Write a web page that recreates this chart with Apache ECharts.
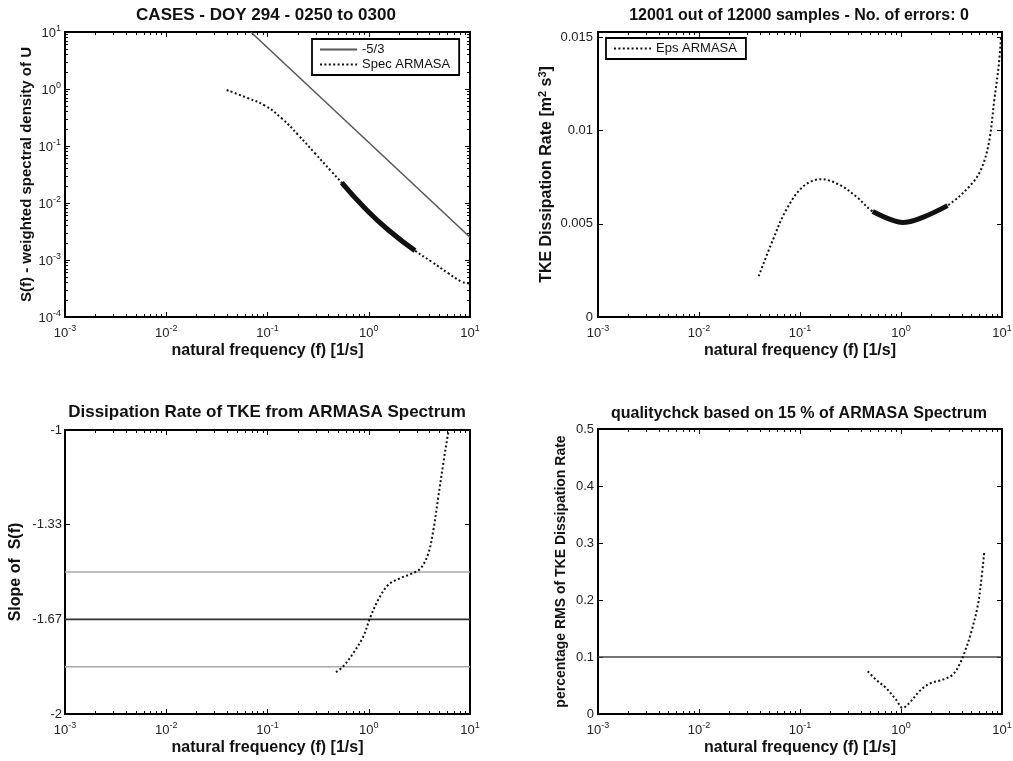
<!DOCTYPE html>
<html><head><meta charset="utf-8">
<script src="https://cdn.jsdelivr.net/npm/echarts@6/dist/echarts.min.js"></script>
<style>html,body{margin:0;padding:0;background:#fff}#c{width:1013px;height:761px}</style>
</head><body><div id="c"></div><script>
// ---------- data ----------
// Panel 1: weighted spectral density of U (log-log)
const specFreq = [0.0395, 0.0646, 0.0944, 0.138, 0.201, 0.294, 0.430, 0.541, 0.918, 1.56, 2.86, 4.19, 6.11, 8.28, 9.62, 10];
const specVal  = [0.96, 0.687, 0.51, 0.306, 0.156, 0.0745, 0.0354, 0.0227, 0.00807, 0.00336, 0.00146, 0.00093, 0.000585, 0.000416, 0.00039, 0.000385];
const specFitFreq = [0.541, 0.918, 1.56, 2.86];
const specFitVal  = [0.0227, 0.00807, 0.00336, 0.00146];
const slopeRefFreq = [0.0684, 10];
const slopeRefVal  = [10, 0.0025];
// Panel 2: TKE dissipation rate
const epsFreq = [0.039, 0.0538, 0.073, 0.107, 0.162, 0.245, 0.36, 0.525, 0.77, 1.04, 1.64, 2.89, 5.1, 6.4, 7.5, 8.4, 9.27, 9.8];
const epsVal  = [0.00219, 0.00413, 0.00575, 0.0070, 0.0074, 0.0071, 0.00647, 0.00566, 0.00525, 0.00507, 0.00535, 0.00598, 0.00719, 0.0081, 0.0095, 0.01168, 0.01347, 0.0151];
const epsFitFreq = [0.525, 0.77, 1.04, 1.64, 2.89];
const epsFitVal  = [0.00566, 0.00525, 0.00507, 0.00535, 0.00598];
// Panel 3: slope of S(f)
const slopeFreq = [0.475, 0.561, 0.705, 0.883, 1.03, 1.24, 1.56, 2.04, 2.65, 3.26, 3.88, 4.35, 4.87, 5.45, 6.11, 6.15];
const slopeVal  = [-1.853, -1.832, -1.785, -1.727, -1.662, -1.598, -1.545, -1.522, -1.506, -1.487, -1.434, -1.352, -1.234, -1.117, -1.006, -1.0];
const slopeLevelsGray = [-1.5, -1.8333];
const slopeLevelMain = -1.6667;
// Panel 4: percentage RMS of TKE dissipation rate
const qualFreq = [0.469, 0.566, 0.711, 0.893, 1.04, 1.21, 1.52, 1.91, 2.59, 3.25, 3.78, 4.24, 4.93, 5.74, 6.19, 6.68];
const qualVal  = [0.0749, 0.0602, 0.0456, 0.0251, 0.0105, 0.0193, 0.0398, 0.0532, 0.0602, 0.069, 0.0865, 0.107, 0.142, 0.189, 0.230, 0.285];
const qualThreshold = 0.1;
// ticks
const xDecades = [0.001, 0.01, 0.1, 1, 10];
const specDecades = [0.0001, 0.001, 0.01, 0.1, 1, 10];
const epsTicks = [0, 0.005, 0.01, 0.015];
const slopeTicks = [-2, -1.6667, -1.3333, -1];
const qualTicks = [0, 0.1, 0.2, 0.3, 0.4, 0.5];
function minorLog(decs){ const out=[]; for(let i=0;i<decs.length-1;i++){ for(let m=2;m<=9;m++) out.push(+(m*decs[i]).toPrecision(6)); } return out; }
const xMinor = minorLog(xDecades);
const specMinor = minorLog(specDecades);

// ---------- styling ----------
const FONT = '"Liberation Sans", Arial, Helvetica, sans-serif';
const INK = '#111';
const zip = (a,b) => a.map((v,i)=>[v,b[i]]);
const logLabel = v => '{b|10}{s|' + Math.round(Math.log10(v)) + '}';
const logRich = {
  b: {fontSize: 13, fontFamily: FONT, color: '#222', verticalAlign: 'bottom'},
  s: {fontSize: 9, fontFamily: FONT, color: '#222', verticalAlign: 'bottom', padding: [0,0,7,0]}
};
const nameStyle = (size) => ({fontSize: size, fontWeight: 'bold', fontFamily: FONT, color: INK});
const tickStyle = {color: '#000', width: 1};

const grids = [
  {left: 65,  top: 32,  width: 405, height: 285},
  {left: 598, top: 32,  width: 404, height: 285},
  {left: 65,  top: 430, width: 405, height: 284},
  {left: 598, top: 429, width: 404, height: 285}
];

function xAxesFor(gi){
  const base = {type:'log', logBase:10, min:0.001, max:10, gridIndex:gi, splitLine:{show:false}, axisLine:{show:false, onZero:false}};
  return [
    Object.assign({}, base, {position:'bottom',
      axisTick:{inside:true, length:5, lineStyle:tickStyle, customValues: xDecades},
      axisLabel:{formatter: logLabel, rich: logRich, margin: 7, customValues: xDecades},
      name:'natural frequency (f) [1/s]', nameLocation:'middle', nameGap:26, nameTextStyle: nameStyle(16)}),
    Object.assign({}, base, {position:'bottom', axisTick:{inside:true, length:3, lineStyle:tickStyle, customValues:xMinor}, axisLabel:{show:false}}),
    Object.assign({}, base, {position:'top', axisTick:{inside:true, length:5, lineStyle:tickStyle, customValues:xDecades}, axisLabel:{show:false}}),
    Object.assign({}, base, {position:'top', axisTick:{inside:true, length:3, lineStyle:tickStyle, customValues:xMinor}, axisLabel:{show:false}})
  ];
}
const xAxis = [].concat(xAxesFor(0), xAxesFor(1), xAxesFor(2), xAxesFor(3));

const yLinBase = (gi, min, max) => ({type:'value', gridIndex:gi, min:min, max:max, splitLine:{show:false}, axisLine:{show:false, onZero:false}});
const tickLabel = {fontSize:13, fontFamily:FONT, color:'#222'};
const yAxis = [
  // panel 1 (log)
  {type:'log', logBase:10, min:0.0001, max:10, gridIndex:0, position:'left', splitLine:{show:false}, axisLine:{show:false},
   axisTick:{inside:true, length:5, lineStyle:tickStyle, customValues:specDecades},
   axisLabel:{formatter:logLabel, rich:logRich, margin:4, customValues:specDecades},
   name:'S(f) - weighted spectral density of U', nameLocation:'middle', nameGap:31, nameTextStyle:nameStyle(15)},
  {type:'log', logBase:10, min:0.0001, max:10, gridIndex:0, position:'left', splitLine:{show:false}, axisLine:{show:false},
   axisTick:{inside:true, length:3, lineStyle:tickStyle, customValues:specMinor}, axisLabel:{show:false}},
  {type:'log', logBase:10, min:0.0001, max:10, gridIndex:0, position:'right', splitLine:{show:false}, axisLine:{show:false},
   axisTick:{inside:true, length:5, lineStyle:tickStyle, customValues:specDecades}, axisLabel:{show:false}},
  {type:'log', logBase:10, min:0.0001, max:10, gridIndex:0, position:'right', splitLine:{show:false}, axisLine:{show:false},
   axisTick:{inside:true, length:3, lineStyle:tickStyle, customValues:specMinor}, axisLabel:{show:false}},
  // panel 2
  Object.assign(yLinBase(1, 0, 0.0153), {position:'left',
   axisTick:{inside:true, length:5, lineStyle:tickStyle, customValues:epsTicks},
   axisLabel:Object.assign({margin:5, customValues:epsTicks}, tickLabel),
   name:'TKE Dissipation Rate [m{s|2} s{s|3}]', nameLocation:'middle', nameGap:42,
   nameTextStyle:Object.assign(nameStyle(16), {rich:{s:{fontSize:11, fontWeight:'bold', fontFamily:FONT, color:INK, verticalAlign:'bottom', padding:[0,0,8,0]}}})}),
  Object.assign(yLinBase(1, 0, 0.0153), {position:'right', axisTick:{inside:true, length:5, lineStyle:tickStyle, customValues:epsTicks}, axisLabel:{show:false}}),
  // panel 3
  Object.assign(yLinBase(2, -2, -1), {position:'left',
   axisTick:{inside:true, length:5, lineStyle:tickStyle, customValues:slopeTicks},
   axisLabel:Object.assign({margin:3, customValues:slopeTicks,
     formatter: v => Number.isInteger(v) ? String(v) : v.toFixed(2)}, tickLabel),
   name:'Slope of  S(f)', nameLocation:'middle', nameGap:41, nameTextStyle:nameStyle(16)}),
  Object.assign(yLinBase(2, -2, -1), {position:'right', axisTick:{inside:true, length:5, lineStyle:tickStyle, customValues:slopeTicks}, axisLabel:{show:false}}),
  // panel 4
  Object.assign(yLinBase(3, 0, 0.5), {position:'left',
   axisTick:{inside:true, length:5, lineStyle:tickStyle, customValues:qualTicks},
   axisLabel:Object.assign({margin:4, customValues:qualTicks}, tickLabel),
   name:'percentage RMS of TKE Dissipation Rate', nameLocation:'middle', nameGap:30, nameTextStyle:nameStyle(14)}),
  Object.assign(yLinBase(3, 0, 0.5), {position:'right', axisTick:{inside:true, length:5, lineStyle:tickStyle, customValues:qualTicks}, axisLabel:{show:false}})
];

const dotted = {type:[2,2.4], width:2, color:INK};
const line = (name, xi, yi, data, ls, z, sm) => ({type:'line', name:name, xAxisIndex:xi, yAxisIndex:yi, data:data, showSymbol:false, symbol:'none', smooth:(sm==null?0.35:sm), lineStyle:ls, itemStyle:{color:ls.color}, z:z||2, animation:false, silent:true});

const series = [
  line('-5/3', 0, 0, zip(slopeRefFreq, slopeRefVal), {type:'solid', width:1.5, color:'#555'}, 2),
  line('Spec ARMASA', 0, 0, zip(specFreq, specVal), dotted, 3, 0.5),
  line('Spec fit', 0, 0, zip(specFitFreq, specFitVal), {type:'solid', width:5, color:INK}, 4, 0.5),
  line('Eps ARMASA', 4, 4, zip(epsFreq, epsVal), dotted, 3),
  line('Eps fit', 4, 4, zip(epsFitFreq, epsFitVal), {type:'solid', width:5, color:INK}, 4),
  line('lvlA', 8, 6, [[0.001, slopeLevelsGray[0]],[10, slopeLevelsGray[0]]], {type:'solid', width:1.5, color:'#a8a8a8'}, 2),
  line('lvlB', 8, 6, [[0.001, slopeLevelsGray[1]],[10, slopeLevelsGray[1]]], {type:'solid', width:1.5, color:'#a8a8a8'}, 2),
  line('lvlMain', 8, 6, [[0.001, slopeLevelMain],[10, slopeLevelMain]], {type:'solid', width:1.8, color:'#333'}, 2),
  line('Slope', 8, 6, zip(slopeFreq, slopeVal), dotted, 3),
  line('thr', 12, 8, [[0.001, qualThreshold],[10, qualThreshold]], {type:'solid', width:1.5, color:'#444'}, 2),
  line('Qual', 12, 8, zip(qualFreq, qualVal), dotted, 3)
];

const legendCommon = {orient:'vertical', borderColor:'#000', borderWidth:1.8, backgroundColor:'#fff', itemWidth:37, itemHeight:14, itemGap:2,
  textStyle:{fontSize:13, fontFamily:FONT, color:INK}, selectedMode:false,
  itemStyle:{opacity:0, borderWidth:0}};

const titleStyle = (size) => ({fontSize:size, fontWeight:'bold', fontFamily:FONT, color:INK});
const option = {
  backgroundColor:'#fff',
  animation:false,
  title:[
    {text:'CASES - DOY 294 - 0250 to 0300', left:266, top:7, textAlign:'center', padding:0, textStyle:titleStyle(17)},
    {text:'12001 out of 12000 samples - No. of errors: 0', left:799, top:8, textAlign:'center', padding:0, textStyle:titleStyle(16)},
    {text:'Dissipation Rate of TKE from ARMASA Spectrum', left:267, top:404, textAlign:'center', padding:0, textStyle:titleStyle(17)},
    {text:'qualitychck based on 15 % of ARMASA Spectrum', left:799, top:406, textAlign:'center', padding:0, textStyle:titleStyle(16)}
  ],
  legend:[
    Object.assign({}, legendCommon, {left:312, top:39, padding:[4,9,4,7], data:['-5/3','Spec ARMASA']}),
    Object.assign({}, legendCommon, {left:606, top:38, padding:[4,9,4,7], data:['Eps ARMASA']})
  ],
  grid: grids.map(g => Object.assign({}, g, {show:true, borderColor:'#000', borderWidth:2, backgroundColor:'#fff', containLabel:false, outerBoundsMode:'none'})),
  xAxis: xAxis,
  yAxis: yAxis,
  series: series
};
const chart = echarts.init(document.getElementById('c'), null, {renderer:'canvas'});
chart.setOption(option);
</script></body></html>
